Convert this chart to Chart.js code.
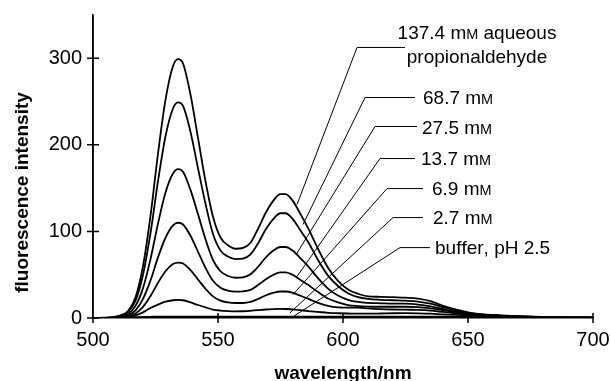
<!DOCTYPE html>
<html><head><meta charset="utf-8">
<script src="https://cdn.jsdelivr.net/npm/chart.js@4"></script>
<style>html,body{margin:0;padding:0;background:#fff}#wrap{width:610px;height:381px;position:relative}</style>
</head><body><div id="wrap"><canvas id="c" width="610" height="381"></canvas></div>
<script>
// ---------- data ----------
const wavelengths = [500,505,508,511,514,517,520,523,526,529,532,534,536,539,542,545,548,551,554,557,560,563,566,569,572,575,577,580,583,586,590,594,598,602,606,610,615,620,625,630,635,640,645,650,655,660,670,680,690,700];

const conc137_4 = [0,0.3,1,3,8,24,60,118,190,252,
  291,299,294,258,208,158,117,93,84,80,
  81,87,103,121,135,143,143,135,120,104,
  80,58,43,33,28,25,24.5,24,23.5,22.5,
  19.5,14,10,6.5,4.5,3.5,2,1.2,0.7,0.5];
const conc68_7 = [0,0.25,0.8,2.5,6.7,20,50,98,158,210,
  242,249,245,215,173,132,97,78,71,68,
  68.5,73.5,86,102,114,121,121,114,101,88,
  67,49,37,28.5,24,22,21,20.5,20,19,
  16.5,12.5,9,6,4.3,3.3,1.9,1.1,0.7,0.5];
const conc27_5 = [0,0.2,0.6,1.7,4.6,14,34.5,68,109,145,
  167,172,169,148,120,91,67,54,48.5,46.5,
  47,50.5,59,69.6,77.6,82,82,77.6,69,60,
  46,34,26,21,18.5,17.5,17,16.5,16.5,15.5,
  13.5,10.5,7.5,5.5,4,3,1.8,1,0.6,0.4];
const conc13_7 = [0,0.1,0.4,1.1,2.9,8.8,22,43.4,70,92.7,
  107,110,108,95,76.5,58,43,35,31.5,30.5,
  30.8,32.5,38,44.5,49.7,52.6,52.6,49.7,44,38.3,
  30,22.5,18,15,13.8,13.2,13,13,13,12.5,
  11,9,6.5,5,3.7,2.8,1.7,1,0.6,0.4];
const conc6_9 = [0,0.06,0.2,0.6,1.7,5.1,12.8,25.3,40.7,54,
  62.3,64,63,55.2,44.5,33.8,25,20,18,17.3,
  17.3,18.6,22,26,29,30.6,30.6,29,25.7,22.3,
  17.5,14,12.3,12,12,11,10.2,9.8,9.6,9.3,
  8.5,7,5.5,4.2,3.3,2.6,1.6,1,0.6,0.4];
const conc2_7 = [0,0,0.1,0.4,1.2,3,6.5,11.5,15.5,18.8,
  20.5,21,20.5,18,15,12.3,9.8,8.6,8,7.7,
  7.8,8.3,9,9.8,10.3,10.5,10.4,10,9,8,
  7,6,5.5,5.2,5,5,5.2,5.5,5.6,5.4,
  5,4.2,3.5,2.8,2.3,2,1.3,0.9,0.5,0.3];
const bufferPH2_5 = [0,0,0.1,0.3,0.7,1,1.3,1.4,1.5,1.5,
  1.5,1.5,1.5,1.5,1.5,1.5,1.5,1.5,1.5,1.5,
  1.5,1.5,1.5,1.5,1.5,1.5,1.5,1.5,1.5,1.5,
  1.5,1.5,1.5,1.5,1.5,1.5,1.5,1.5,1.5,1.5,
  1.5,1.5,1.4,1.2,1.1,1,0.8,0.6,0.5,0.4];

const seriesNames = [['137.4 mᴍ aqueous','propionaldehyde'],['68.7 mᴍ'],['27.5 mᴍ'],['13.7 mᴍ'],['6.9 mᴍ'],['2.7 mᴍ'],['buffer, pH 2.5']];
const seriesValues = [conc137_4, conc68_7, conc27_5, conc13_7, conc6_9, conc2_7, bufferPH2_5];
const xTicks = [500,550,600,650,700];
const yTicks = [0,100,200,300];
const xTitle = 'wavelength/nm';
const yTitle = 'fluorescence intensity';

// ---------- label leader geometry (in data units) ----------
const leaderTips   = [[581.6,131],[584,108],[581.2,73],[581.6,48],[580,27],[578.8,6],[580,1.5]];
const leaderElbows = [[605.6,312.5],[608.8,254.7],[612.8,221.2],[614.8,184.2],[617.6,149.5],[620,116],[622.8,81.3]];
const leaderEnds   = [[624.8,312.5],[628.8,254.7],[629.6,221.2],[628.8,184.2],[632,149.5],[632,116],[634.8,81.3]];
const labelAnchors = [[653.6,330],[632,254.7],[631.6,220.5],[631.2,185],[635.6,149.5],[636,116],[636.8,81.3]];
const yTitleCenter = 145; // data units along the y axis

const FONT = "'Liberation Sans', Arial, sans-serif";
const FS = 19;

function drawSmallCaps(ctx, text, x, yBase, size, align) {
  const segs = [];
  for (const ch of text) {
    const sc = ch === 'ᴍ';
    segs.push({t: sc ? 'M' : ch, f: (sc ? size*0.76 : size)});
  }
  let w = 0;
  segs.forEach(s => { ctx.font = s.f + 'px ' + FONT; s.w = ctx.measureText(s.t).width; w += s.w; });
  let cx = align === 'center' ? x - w/2 : x;
  ctx.textAlign = 'left';
  ctx.textBaseline = 'alphabetic';
  segs.forEach(s => { ctx.font = s.f + 'px ' + FONT; ctx.fillText(s.t, cx, yBase); cx += s.w; });
}

const annotPlugin = {
  id: 'annot',
  afterDraw(chart) {
    const ctx = chart.ctx, xs = chart.scales.x, ys = chart.scales.y;
    const px = v => xs.getPixelForValue(v), py = v => ys.getPixelForValue(v);
    ctx.save();
    ctx.strokeStyle = '#000';
    ctx.fillStyle = '#000';
    // crossing tick marks
    ctx.lineWidth = 1.5;
    const ax = px(500), ay = py(0);
    ctx.beginPath();
    ctx.moveTo(ax, py(350)); ctx.lineTo(ax, ay + 5);
    yTicks.forEach(v => { ctx.moveTo(ax - 6, py(v)); ctx.lineTo(ax + 6, py(v)); });
    xTicks.forEach(v => { if (v !== 500) { ctx.moveTo(px(v), ay - 5); ctx.lineTo(px(v), ay + 5); } });
    ctx.stroke();
    // y title
    ctx.save();
    ctx.translate(23, py(yTitleCenter));
    ctx.rotate(-Math.PI/2);
    ctx.font = 'bold ' + FS + 'px ' + FONT;
    ctx.textAlign = 'center';
    ctx.textBaseline = 'middle';
    ctx.fillText(yTitle, 0, 0);
    ctx.restore();
    // leaders
    ctx.lineWidth = 1;
    for (let i = 0; i < seriesNames.length; i++) {
      ctx.beginPath();
      ctx.moveTo(px(leaderTips[i][0]), py(leaderTips[i][1]));
      ctx.lineTo(px(leaderElbows[i][0]), py(leaderElbows[i][1]));
      ctx.lineTo(px(leaderEnds[i][0]), py(leaderEnds[i][1]));
      ctx.stroke();
    }
    for (let i = 0; i < seriesNames.length; i++) {
      const lines = seriesNames[i];
      const ax2 = px(labelAnchors[i][0]), ay2 = py(labelAnchors[i][1]);
      const align = lines.length > 1 ? 'center' : 'left';
      lines.forEach((t, k) => {
        const cy = ay2 + k * 24;
        drawSmallCaps(ctx, t, ax2, cy + FS*0.716/2, FS, align);
      });
    }
    ctx.restore();
  }
};

const datasets = seriesValues.map((vals, i) => ({
  label: seriesNames[i].join(' '),
  data: wavelengths.map((w, k) => ({x: w, y: vals[k]})),
  borderColor: '#000',
  borderWidth: 1.8,
  pointRadius: 0,
  fill: false,
  cubicInterpolationMode: 'monotone'
}));

new Chart(document.getElementById('c'), {
  type: 'line',
  data: {datasets},
  plugins: [annotPlugin],
  options: {
    responsive: false,
    animation: false,
    devicePixelRatio: 1,
    layout: {padding: {top: 15, right: 17, left: 0, bottom: 0}},
    plugins: {legend: {display: false}, tooltip: {enabled: false}},
    scales: {
      x: {
        type: 'linear', min: 500, max: 700,
        afterBuildTicks: s => { s.ticks = xTicks.map(v => ({value: v})); },
        afterFit: s => { s.height = 63; s.paddingLeft = 0; s.paddingRight = 0; },
        grid: {display: false, drawTicks: false},
        border: {display: true, color: '#000', width: 1.5},
        ticks: {color: '#000', font: {family: FONT, size: 20}, padding: 10, maxRotation: 0},
        title: {display: true, text: xTitle, color: '#000', font: {family: FONT, size: FS, weight: 'bold', lineHeight: 0.74}, padding: {top: 0, bottom: 0}}
      },
      y: {
        min: 0, max: 350,
        afterBuildTicks: s => { s.ticks = yTicks.map(v => ({value: v})); },
        afterFit: s => { s.width = 93; s.paddingTop = 0; s.paddingBottom = 0; },
        grid: {display: false, drawTicks: false},
        border: {display: true, color: '#000', width: 1.5},
        ticks: {color: '#000', font: {family: FONT, size: 20}, padding: 11},
        title: {display: false}
      }
    }
  }
});
</script></body></html>
